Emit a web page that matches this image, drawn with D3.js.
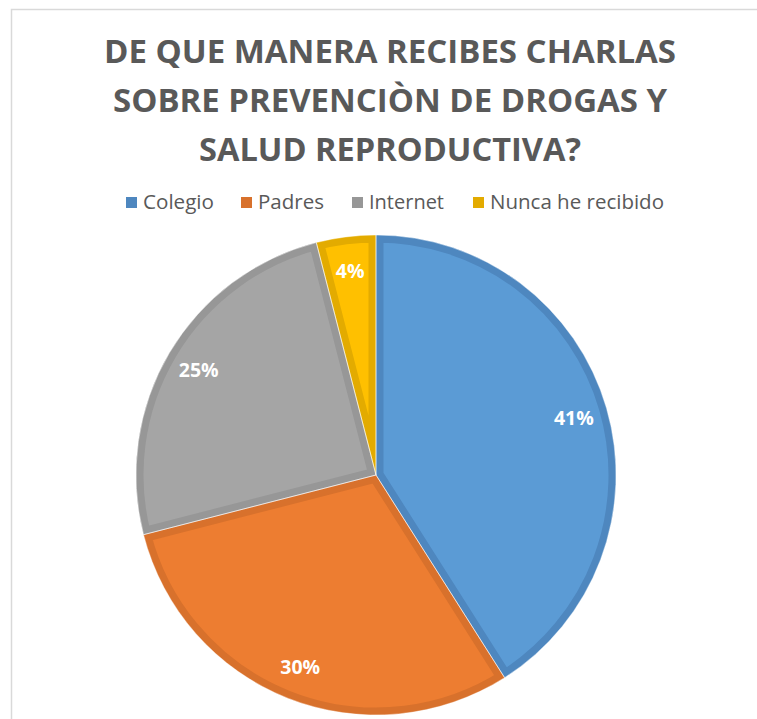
<!DOCTYPE html>
<html>
<head>
<meta charset="utf-8">
<script src="https://cdn.jsdelivr.net/npm/d3@7"></script>
<style>
  html, body { margin: 0; padding: 0; background: #fff; }
  svg { display: block; }
</style>
</head>
<body>
<svg id="chart" width="757" height="719"></svg>
<script>
// ---- data ----
const categories = ["Colegio", "Padres", "Internet", "Nunca he recibido"];
const values = [41, 30, 25, 4];
const fillColors = ["#5B9BD5", "#ED7D31", "#A5A5A5", "#FFC000"];
const edgeColors = ["#4E87BF", "#D8712C", "#979797", "#E3AB00"];
const titleLines = ["DE QUE MANERA RECIBES CHARLAS", "SOBRE PREVENCIÒN DE DROGAS Y", "SALUD REPRODUCTIVA?"];

// ---- layout ----
const W = 757, H = 719;
const cx = 376, cy = 475, R = 240;
const svg = d3.select("#chart");

// frame
svg.append("rect")
  .attr("x", 11.5).attr("y", 9.5)
  .attr("width", W + 20).attr("height", H + 20)
  .attr("fill", "#fff").attr("stroke", "#D9D9D9").attr("stroke-width", 1.5);

// title
const titleBaselines = [63, 112, 161];
const titleWidths = [572, 554, 382];
svg.append("g").selectAll("text").data(titleLines).join("text")
  .attr("x", 390)
  .attr("y", (d, i) => titleBaselines[i])
  .attr("text-anchor", "middle")
  .attr("font-family", "'Open Sans', sans-serif")
  .attr("font-weight", 700)
  .attr("font-size", 32)
  .attr("fill", "#595959")
  .attr("textLength", (d, i) => titleWidths[i])
  .attr("lengthAdjust", "spacingAndGlyphs")
  .text(d => d);

// legend
const legendX = [126, 241, 352, 473];
const legendW = [71, 66, 75, 174];
const lg = svg.append("g").selectAll("g").data(categories).join("g")
  .attr("transform", (d, i) => `translate(${legendX[i]},197)`);
lg.append("rect").attr("width", 11).attr("height", 11)
  .attr("fill", (d, i) => edgeColors[i]);
lg.append("text").attr("x", 17).attr("y", 12)
  .attr("font-family", "'Open Sans', sans-serif")
  .attr("font-size", 19.5)
  .attr("fill", "#595959")
  .attr("textLength", (d, i) => legendW[i])
  .attr("lengthAdjust", "spacingAndGlyphs")
  .text(d => d);

// pie
const pie = d3.pie().sort(null).value(d => d)(values);
const arc = d3.arc().innerRadius(0).outerRadius(R);
const labelArc = d3.arc().innerRadius(206).outerRadius(206);

const g = svg.append("g").attr("transform", `translate(${cx},${cy})`);
const defs = svg.append("defs");
pie.forEach((p, i) => {
  defs.append("clipPath").attr("id", "clip" + i)
    .append("path").attr("d", arc(p));
});

g.selectAll("path.slice").data(pie).join("path")
  .attr("class", "slice")
  .attr("d", arc)
  .attr("fill", (d, i) => fillColors[i])
  .attr("stroke", (d, i) => edgeColors[i])
  .attr("stroke-width", 15)
  .attr("stroke-linejoin", "miter")
  .attr("clip-path", (d, i) => `url(#clip${i})`);

g.selectAll("path.sep").data(pie).join("path")
  .attr("class", "sep")
  .attr("d", arc)
  .attr("fill", "none")
  .attr("stroke", "#fff")
  .attr("stroke-opacity", 0.6)
  .attr("stroke-width", 0.8);

g.selectAll("text.lbl").data(pie).join("text")
  .attr("class", "lbl")
  .attr("transform", d => { const c = labelArc.centroid(d); return `translate(${c[0]},${c[1]})`; })
  .attr("text-anchor", "middle")
  .attr("dy", "0.36em")
  .attr("font-family", "'Open Sans', sans-serif")
  .attr("font-weight", 700)
  .attr("font-size", 19.5)
  .attr("fill", "#fff")
  .text(d => d.data + "%");
</script>
</body>
</html>
